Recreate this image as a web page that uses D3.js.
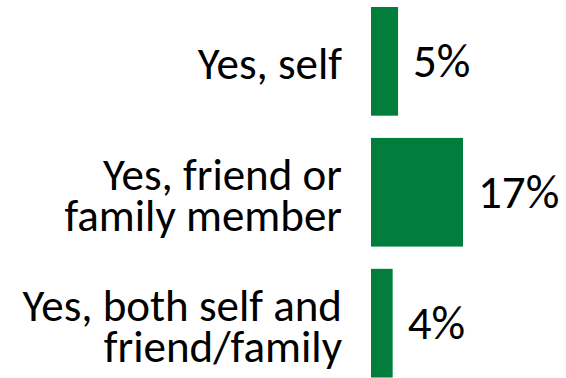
<!DOCTYPE html>
<html>
<head>
<meta charset="utf-8">
<script src="https://cdn.jsdelivr.net/npm/d3@7"></script>
<style>
  html, body { margin: 0; padding: 0; background: #fff; }
  svg { display: block; }
</style>
</head>
<body>
<div id="chart"></div>
<script>
// Category labels (each entry is a list of lines) and their values, in percent
const categories = ["self", "friendFamily", "both"];
const labelLines = [
    ["Yes, self"],
    ["Yes, friend or", "family member"],
    ["Yes, both self and", "friend/family"]
];
const values = [5, 17, 4];

const width = 566, height = 378;
const fontFamily = "Carlito, Calibri, Lato, 'Open Sans', sans-serif";
const labelSize = 45;
const valueSize = 47;
const lineGap = 41;

const svg = d3.select("#chart")
              .append("svg")
              .attr("width", width)
              .attr("height", height);

// Horizontal scale: percent -> pixel, bars start at x = 371
const xScale = d3.scaleLinear()
                 .domain([0, 17])
                 .range([371, 463]);

// Vertical band scale for the three categories
const yScale = d3.scaleBand()
                 .domain(categories)
                 .range([7, 377.5])
                 .paddingInner(0.17)
                 .paddingOuter(0);

// Bars
svg.append("g")
   .selectAll("rect")
   .data(values)
   .enter()
   .append("rect")
   .attr("x", xScale(0))
   .attr("y", (d, i) => yScale(categories[i]))
   .attr("width", d => xScale(d) - xScale(0))
   .attr("height", yScale.bandwidth())
   .attr("fill", "#017D3C");

// Value labels to the right of each bar
svg.append("g")
   .selectAll("text")
   .data(values)
   .enter()
   .append("text")
   .attr("x", d => xScale(d) + 15)
   .attr("y", (d, i) => yScale(categories[i]) + yScale.bandwidth() / 2 + 16)
   .attr("font-family", fontFamily)
   .attr("font-size", valueSize)
   .attr("font-weight", 300)
   .attr("fill", "#000")
   .text(d => d + "%");

// Category labels, right aligned left of the bars (one text per line)
const labelGroup = svg.append("g")
                      .attr("font-family", fontFamily)
                      .attr("font-size", labelSize)
                      .attr("font-weight", 300)
                      .attr("fill", "#000")
                      .attr("text-anchor", "end");

labelLines.forEach(function (lines, i) {
    const center = yScale(categories[i]) + yScale.bandwidth() / 2;
    // baseline of first line so the block of lines sits centred on the band
    const firstBase = center + 18 - (lines.length - 1) * lineGap / 2;
    labelGroup.selectAll(null)
              .data(lines)
              .enter()
              .append("text")
              .attr("x", 342)
              .attr("y", (d, j) => firstBase + j * lineGap)
              .text(d => d);
});
</script>
</body>
</html>
